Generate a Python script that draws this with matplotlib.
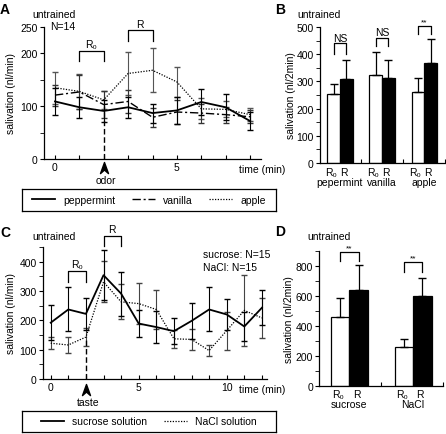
import numpy as np
import matplotlib
matplotlib.use("Agg")
import matplotlib.pyplot as plt
from matplotlib.path import Path

plt.rcParams['font.family'] = ['Liberation Sans', 'DejaVu Sans']
plt.rcParams['font.size'] = 7.5
plt.rcParams['axes.linewidth'] = 0.9

# ---- panel A: odor time course (nl/min) ----
t_a = [0, 1, 2, 3, 4, 5, 6, 7, 8]
pep = [109, 98, 91, 98, 87, 92, 108, 98, 72]
pep_err = [25, 20, 20, 20, 18, 25, 25, 25, 17]
van = [121, 127, 103, 109, 79, 89, 87, 84, 80]
van_err = [20, 33, 25, 22, 18, 22, 18, 15, 12]
apple = [135, 128, 112, 162, 168, 146, 95, 94, 84]
apple_err = [30, 33, 17, 41, 42, 29, 20, 15, 12]

# ---- panel B: odor R0 vs R (nl/2min) ----
b_groups = ['pepermint', 'vanilla', 'apple']
b_r0 = [252, 322, 262]
b_r0_err = [38, 86, 50]
b_r = [310, 313, 368]
b_r_err = [70, 67, 87]
b_sig = ['NS', 'NS', '**']

# ---- panel C: taste time course (nl/min) ----
t_c = [0, 1, 2, 3, 4, 5, 6, 7, 8, 9, 10, 11, 12]
suc = [192, 237, 222, 354, 291, 189, 177, 163, 198, 237, 220, 179, 243]
suc_err = [60, 75, 55, 85, 75, 45, 55, 45, 60, 75, 52, 50, 60]
nacl = [122, 116, 143, 331, 263, 257, 237, 137, 135, 97, 165, 234, 208]
nacl_err = [20, 27, 30, 70, 60, 70, 65, 30, 35, 20, 65, 120, 68]

# ---- panel D: taste R0 vs R (nl/2min) ----
d_groups = ['sucrose', 'NaCl']
d_r0 = [460, 260]
d_r0_err = [123, 50]
d_r = [640, 595]
d_r_err = [165, 120]
d_sig = ['**', '**']

W, H = 446, 435
fig = plt.figure(figsize=(W / 100, H / 100), dpi=100)


def box(left, top, right, bottom):
    return [left / W, 1 - bottom / H, (right - left) / W, (bottom - top) / H]


def ftext(x, y, s, **kw):
    fig.text(x / W, 1 - y / H, s, **kw)


arrow = Path([(0, 0), (0.36, -1), (0, -0.68), (-0.36, -1), (0, 0)],
             [Path.MOVETO, Path.LINETO, Path.LINETO, Path.LINETO, Path.CLOSEPOLY])

ls_dashdot = (0, (6, 2, 1.5, 2))
ls_dot = (0, (1, 1.2))


def time_axes(ax, xmax, ymax, ymajor, yminor, xlabels):
    ax.spines[['top', 'right']].set_visible(False)
    ax.set_xlim(-0.45, xmax)
    ax.set_ylim(0, ymax)
    ax.set_xticks(range(int(xmax) + 1))
    ax.set_xticklabels([str(i) if i in xlabels else '' for i in range(int(xmax) + 1)])
    ax.set_yticks(ymajor)
    ax.set_yticks(yminor, minor=True)
    ax.tick_params(axis='x', direction='in', length=3, pad=2)
    ax.tick_params(axis='y', which='both', direction='out', length=3, pad=1.5)


def bar_axes(ax, xmax, ymax, ymajor, yminor, xt):
    ax.spines[['top', 'right']].set_visible(False)
    ax.set_xlim(-0.47, xmax)
    ax.set_ylim(0, ymax)
    ax.set_yticks(ymajor)
    ax.set_yticks(yminor, minor=True)
    ax.set_xticks(xt)
    ax.set_xticklabels([])
    ax.tick_params(axis='x', direction='in', length=3)
    ax.tick_params(axis='y', which='both', direction='out', length=3, pad=1.5)


def bracket(ax, x0, x1, top, leg, label, dy, fs=7.5):
    ax.plot([x0, x0, x1, x1], [leg, top, top, leg], color='k', lw=0.9, clip_on=False)
    ax.text((x0 + x1) / 2, top + dy, label, ha='center', va='bottom', fontsize=fs)


# ================= A =================
axA = fig.add_axes(box(44, 28, 261, 160))
time_axes(axA, 8.45, 250, [0, 100, 200, 250], [50, 150], [0, 5])
axA.errorbar(t_a, apple, yerr=apple_err, color='k', ls=ls_dot, lw=0.9,
             ecolor='#555555', elinewidth=0.8, capsize=2.5, label='apple')
axA.errorbar(t_a, van, yerr=van_err, color='k', ls=ls_dashdot, lw=1.0,
             ecolor='#333333', elinewidth=0.8, capsize=2.5, label='vanilla')
axA.errorbar(t_a, pep, yerr=pep_err, color='k', ls='-', lw=1.3,
             ecolor='k', elinewidth=0.8, capsize=2.5, label='peppermint')
axA.plot([2, 2], [0, 100], color='k', ls=(0, (4, 2)), lw=1.0)
axA.plot([2], [-0.02], marker=arrow, ms=16, color='k', ls='none',
         transform=axA.get_xaxis_transform(), clip_on=False)
bracket(axA, 1, 2, 205, 185, 'R₀', 3)
bracket(axA, 3, 4, 244, 223, 'R', 3)
axA.set_ylabel('salivation (nl/min)')
axA.yaxis.set_label_coords(-0.128, 0.5)

ftext(0, 10, 'A', fontsize=10, fontweight='bold', va='center')
ftext(32, 15, 'untrained', va='center')
ftext(50, 27, 'N=14', va='center')
ftext(239, 170, 'time (min)', va='center')
ftext(106, 181, 'odor', ha='center', va='center')

axLA = fig.add_axes(box(22, 190, 276, 212))
axLA.set_xticks([])
axLA.set_yticks([])
hA, lA = axA.get_legend_handles_labels()
order = [lA.index(n) for n in ['peppermint', 'vanilla', 'apple']]
axLA.legend([hA[i][0] for i in order], [lA[i] for i in order], ncol=3,
            loc='center', frameon=False, handlelength=2.2, handletextpad=0.8,
            columnspacing=1.6, borderaxespad=0)

# ================= B =================
wb = 0.3
axB = fig.add_axes(box(320, 28, 445, 164))
bar_axes(axB, 2.49, 500, range(0, 501, 100), range(50, 500, 100), [0.5, 1.5, 2.49])
xb = np.arange(len(b_groups))
axB.bar(xb - wb / 2, b_r0, wb, color='white', edgecolor='k', lw=0.9)
axB.bar(xb + wb / 2, b_r, wb, color='black', edgecolor='k', lw=0.9)
axB.errorbar(xb - wb / 2, b_r0, yerr=[np.zeros(3), b_r0_err], fmt='none',
             ecolor='k', elinewidth=0.9, capsize=3)
axB.errorbar(xb + wb / 2, b_r, yerr=[np.zeros(3), b_r_err], fmt='none',
             ecolor='k', elinewidth=0.9, capsize=3)
axB.set_ylabel('salivation (nl/2min)')
axB.yaxis.set_label_coords(-0.19, 0.5)
b_tops = [(441, 400), (460, 430), (505, 474)]
trB = axB.get_xaxis_transform()
for i, g in enumerate(b_groups):
    top, leg = b_tops[i]
    bracket(axB, i - wb / 2, i + wb / 2, top, leg, b_sig[i], 2,
            fs=7.5 if b_sig[i] == 'NS' else 6)
    axB.text(i - wb / 2 - 0.06, -0.066, 'R₀', ha='center', va='center',
             transform=trB, clip_on=False)
    axB.text(i + wb / 2 - 0.06, -0.066, 'R', ha='center', va='center',
             transform=trB, clip_on=False)
    axB.text(i, -0.142, g, ha='center', va='center', transform=trB, clip_on=False)

ftext(275, 10, 'B', fontsize=10, fontweight='bold', va='center')
ftext(297, 15, 'untrained', va='center')

# ================= C =================
axC = fig.add_axes(box(42.8, 248, 267.2, 380))
time_axes(axC, 12.3, 450, [0, 100, 200, 300, 400], [50, 150, 250, 350, 450], [0, 5, 10])
axC.errorbar(t_c, nacl, yerr=nacl_err, color='k', ls=ls_dot, lw=0.9,
             ecolor='#444444', elinewidth=0.8, capsize=2.5, label='NaCl solution')
axC.errorbar(t_c, suc, yerr=suc_err, color='k', ls='-', lw=1.3,
             ecolor='k', elinewidth=0.8, capsize=2.5, label='sucrose solution')
axC.plot([2, 2], [0, 143], color='k', ls=(0, (4, 2)), lw=1.0)
axC.plot([2], [-0.035], marker=arrow, ms=16, color='k', ls='none',
         transform=axC.get_xaxis_transform(), clip_on=False)
bracket(axC, 1, 2, 369, 332, 'R₀', 5)
bracket(axC, 3, 4, 489, 454, 'R', 5)
axC.set_ylabel('salivation (nl/min)')
axC.yaxis.set_label_coords(-0.118, 0.5)

ftext(0, 233, 'C', fontsize=10, fontweight='bold', va='center')
ftext(32, 237, 'untrained', va='center')
ftext(203, 255, 'sucrose: N=15', va='center')
ftext(203, 268, 'NaCl: N=15', va='center')
ftext(239, 390, 'time (min)', va='center')
ftext(88, 403, 'taste', ha='center', va='center')

axLC = fig.add_axes(box(22, 412, 276, 433))
axLC.set_xticks([])
axLC.set_yticks([])
hC, lC = axC.get_legend_handles_labels()
order = [lC.index(n) for n in ['sucrose solution', 'NaCl solution']]
axLC.legend([hC[i][0] for i in order], [lC[i] for i in order], ncol=2,
            loc='center', frameon=False, handlelength=2.2, handletextpad=0.8,
            columnspacing=1.6, borderaxespad=0)

# ================= D =================
wd = 0.29
axD = fig.add_axes(box(319.3, 251.7, 443, 386.7))
bar_axes(axD, 1.47, 900, range(0, 801, 200), range(100, 901, 200), [0.5, 1.47])
xd = np.arange(len(d_groups))
axD.bar(xd - wd / 2, d_r0, wd, color='white', edgecolor='k', lw=0.9)
axD.bar(xd + wd / 2, d_r, wd, color='black', edgecolor='k', lw=0.9)
axD.errorbar(xd - wd / 2, d_r0, yerr=[np.zeros(2), d_r0_err], fmt='none',
             ecolor='k', elinewidth=0.9, capsize=3)
axD.errorbar(xd + wd / 2, d_r, yerr=[np.zeros(2), d_r_err], fmt='none',
             ecolor='k', elinewidth=0.9, capsize=3)
axD.set_ylabel('salivation (nl/2min)')
axD.yaxis.set_label_coords(-0.205, 0.5)
d_tops = [(893, 833), (823, 756)]
trD = axD.get_xaxis_transform()
for i, g in enumerate(d_groups):
    top, leg = d_tops[i]
    bracket(axD, i - wd / 2, i + wd / 2, top, leg, d_sig[i], 5, fs=6)
    axD.text(i - wd / 2 - 0.03, -0.061, 'R₀', ha='center', va='center',
             transform=trD, clip_on=False)
    axD.text(i + wd / 2 - 0.03, -0.061, 'R', ha='center', va='center',
             transform=trD, clip_on=False)
    axD.text(i, -0.137, g, ha='center', va='center', transform=trD, clip_on=False)

ftext(275, 232, 'D', fontsize=10, fontweight='bold', va='center')
ftext(307, 237, 'untrained', va='center')

fig.savefig('out.png', dpi=100)
